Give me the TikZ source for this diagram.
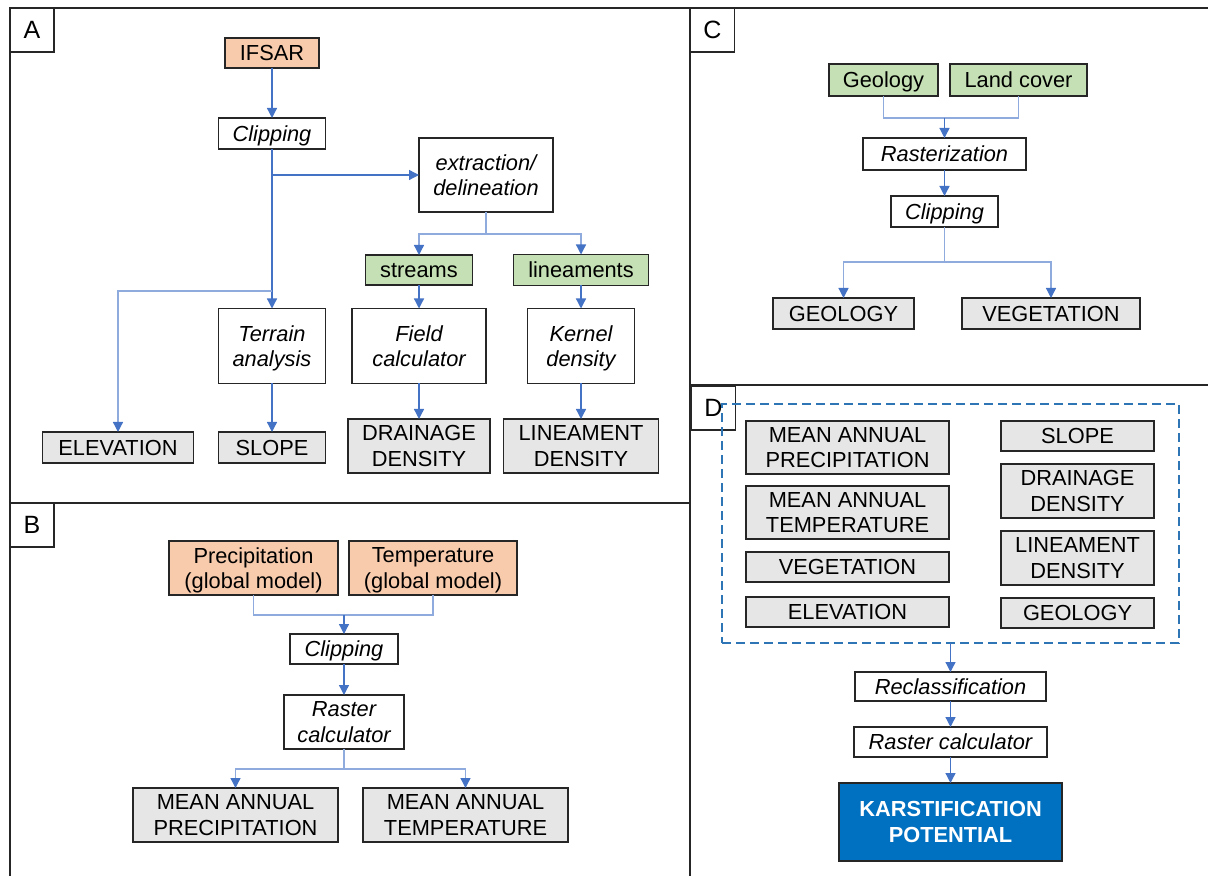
\documentclass[tikz,border=0pt]{standalone}
\usepackage{fontspec}
\setmainfont{Liberation Sans}
\usetikzlibrary{arrows.meta}
\definecolor{peach}{HTML}{F8CBAD}
\definecolor{greenfill}{HTML}{C5E0B4}
\definecolor{grayfill}{HTML}{E7E6E6}
\definecolor{karst}{HTML}{0070C0}
\definecolor{conn}{HTML}{4472C4}
\definecolor{connlight}{HTML}{8FAADC}
\definecolor{dashblue}{HTML}{2E75B6}
\definecolor{edge}{HTML}{262626}
\newcommand\mkbox[7]{\node[#2, minimum width={#5*0.5pt}, minimum height={#6*0.5pt}] (#1) at (#3,#4) {#7};}
\tikzset{
  base/.style={draw=edge, line width=0.9pt, inner sep=0pt, outer sep=0pt, align=center, text depth=0pt, font=\fontsize{10.9}{12.8}\selectfont},
  proc/.style={base, fill=white, font=\fontsize{10.9}{12.8}\selectfont\itshape},
  srcbox/.style={base, fill=peach},
  grnbox/.style={base, fill=greenfill},
  outbox/.style={base, fill=grayfill},
  karstbox/.style={base, fill=karst, text=white, font=\fontsize{10.9}{12.8}\selectfont\bfseries},
  panellabel/.style={draw=edge, line width=0.9pt, fill=white, inner sep=0pt, outer sep=0pt, minimum size=22pt, font=\fontsize{12.5}{14}\selectfont},
  arr/.style={draw=conn, line width=0.65pt, -{Triangle[length=5pt,width=5pt,color=conn]}},
  lnk/.style={draw=connlight, line width=0.65pt},
  lnkarr/.style={draw=connlight, line width=0.65pt, -{Triangle[length=5pt,width=5pt,color=conn]}},
  frame/.style={draw=edge, line width=1pt},
  dbox/.style={draw=dashblue, line width=0.9pt, dash pattern=on 4.5pt off 2.5pt, inner sep=0pt, outer sep=0pt}
}
\begin{document}
\begin{tikzpicture}[x=0.5pt,y=-0.5pt]
\useasboundingbox (0,0) rectangle (1208,876);
% frames
\draw[frame] (10,876) -- (10,8) -- (1210,8);
\draw[frame] (690,8) -- (690,876);
\draw[frame] (10,503) -- (690,503);
\draw[frame] (690,385) -- (1210,385);
% ---------- A ----------
\mkbox{ifsar}{srcbox}{272}{53}{94}{30}{IFSAR}
\mkbox{clipA}{proc}{272}{133.5}{107}{31}{Clipping}
\mkbox{extr}{proc}{486}{175}{134}{74}{extraction/\\delineation}
\mkbox{streams}{grnbox}{419}{270}{107}{30}{streams}
\mkbox{lineam}{grnbox}{581}{270}{135}{31}{lineaments}
\mkbox{field}{proc}{419}{346}{134}{75}{Field\\calculator}
\mkbox{kernel}{proc}{581}{346}{107}{75}{Kernel\\density}
\mkbox{terrain}{proc}{272}{346}{107}{75}{Terrain\\analysis}
\mkbox{elev}{outbox}{118}{447.5}{151}{31}{ELEVATION}
\mkbox{slope}{outbox}{272}{447.5}{107}{31}{SLOPE}
\mkbox{drain}{outbox}{419}{446}{142}{54}{DRAINAGE\\DENSITY}
\mkbox{linden}{outbox}{581}{446}{155}{54}{LINEAMENT\\DENSITY}
\coordinate (jA1) at (272,175);
\coordinate (jA2) at (272,291);
\coordinate (jA3) at (486,234);
\draw[arr] (ifsar) -- (clipA);
\draw[arr] (clipA) -- (terrain);
\draw[arr] (jA1) -- (extr.west);
\draw[lnkarr] (jA2) -| (elev.north);
\draw[lnk] (extr.south) -- (jA3);
\draw[lnkarr] (jA3) -| (streams.north);
\draw[lnkarr] (jA3) -| (lineam.north);
\draw[arr] (streams) -- (field);
\draw[arr] (lineam) -- (kernel);
\draw[arr] (terrain) -- (slope);
\draw[arr] (field) -- (drain);
\draw[arr] (kernel) -- (linden);
\node[panellabel] (labA) at (32,30) {A};
% ---------- B ----------
\mkbox{precip}{srcbox}{253.5}{568}{169}{54}{Precipitation\\(global model)}
\mkbox{temp}{srcbox}{433}{568}{168}{54}{Temperature\\(global model)}
\mkbox{clipB}{proc}{344}{649}{108}{30}{Clipping}
\mkbox{rastB}{proc}{344}{722}{120}{54}{Raster\\calculator}
\mkbox{mapB}{outbox}{235.5}{815}{205}{54}{MEAN ANNUAL\\PRECIPITATION}
\mkbox{matB}{outbox}{465.5}{815}{205}{54}{MEAN ANNUAL\\TEMPERATURE}
\coordinate (jB1) at (344,615);
\coordinate (jB2) at (344,769);
\draw[lnk] (precip.south) |- (jB1);
\draw[lnk] (temp.south) |- (jB1);
\draw[arr] (jB1) -- (clipB.north);
\draw[arr] (clipB) -- (rastB);
\draw[lnk] (rastB.south) -- (jB2);
\draw[lnkarr] (jB2) -| (mapB.north);
\draw[lnkarr] (jB2) -| (matB.north);
\node[panellabel] (labB) at (32,525) {B};
% ---------- C ----------
\mkbox{geo}{grnbox}{883.5}{80}{109}{32}{Geology}
\mkbox{land}{grnbox}{1018.5}{80}{137}{32}{Land cover}
\mkbox{rastC}{proc}{944.5}{154}{163}{32}{Rasterization}
\mkbox{clipC}{proc}{944.5}{211.5}{107}{31}{Clipping}
\mkbox{geoOut}{outbox}{843.5}{313.5}{141}{31}{GEOLOGY}
\mkbox{vegOut}{outbox}{1051}{313.5}{178}{31}{VEGETATION}
\coordinate (jC1) at (944.5,118);
\coordinate (jC2) at (944.5,262);
\draw[lnk] (geo.south) |- (jC1);
\draw[lnk] (land.south) |- (jC1);
\draw[arr] (jC1) -- (rastC.north);
\draw[arr] (rastC) -- (clipC);
\draw[lnk] (clipC.south) -- (jC2);
\draw[lnkarr] (jC2) -| (geoOut.north);
\draw[lnkarr] (jC2) -| (vegOut.north);
\node[panellabel] (labC) at (712.5,30) {C};
% ---------- D ----------
\node[panellabel] (labD) at (713.5,408) {D};
\node[dbox, minimum width={457*0.5pt}, minimum height={239*0.5pt}] (dashed) at (950.5,523.5) {};
\mkbox{mapD}{outbox}{847.5}{447.5}{203}{53}{MEAN ANNUAL\\PRECIPITATION}
\mkbox{matD}{outbox}{847.5}{512.5}{203}{53}{MEAN ANNUAL\\TEMPERATURE}
\mkbox{vegD}{outbox}{847.5}{567}{203}{30}{VEGETATION}
\mkbox{elevD}{outbox}{847.5}{612}{203}{30}{ELEVATION}
\mkbox{slopeD}{outbox}{1077.5}{436}{153}{30}{SLOPE}
\mkbox{drainD}{outbox}{1077.5}{491}{153}{54}{DRAINAGE\\DENSITY}
\mkbox{lindD}{outbox}{1077.5}{558}{153}{54}{LINEAMENT\\DENSITY}
\mkbox{geoD}{outbox}{1077.5}{613}{153}{30}{GEOLOGY}
\mkbox{reclass}{proc}{950.5}{686.5}{191}{29}{Reclassification}
\mkbox{rastD}{proc}{950.5}{742}{193}{30}{Raster calculator}
\mkbox{karstD}{karstbox}{950.5}{822}{223}{78}{KARSTIFICATION\\POTENTIAL}
\draw[arr] (dashed.south) -- (reclass.north);
\draw[arr] (reclass) -- (rastD);
\draw[arr] (rastD) -- (karstD);
\end{tikzpicture}
\end{document}
